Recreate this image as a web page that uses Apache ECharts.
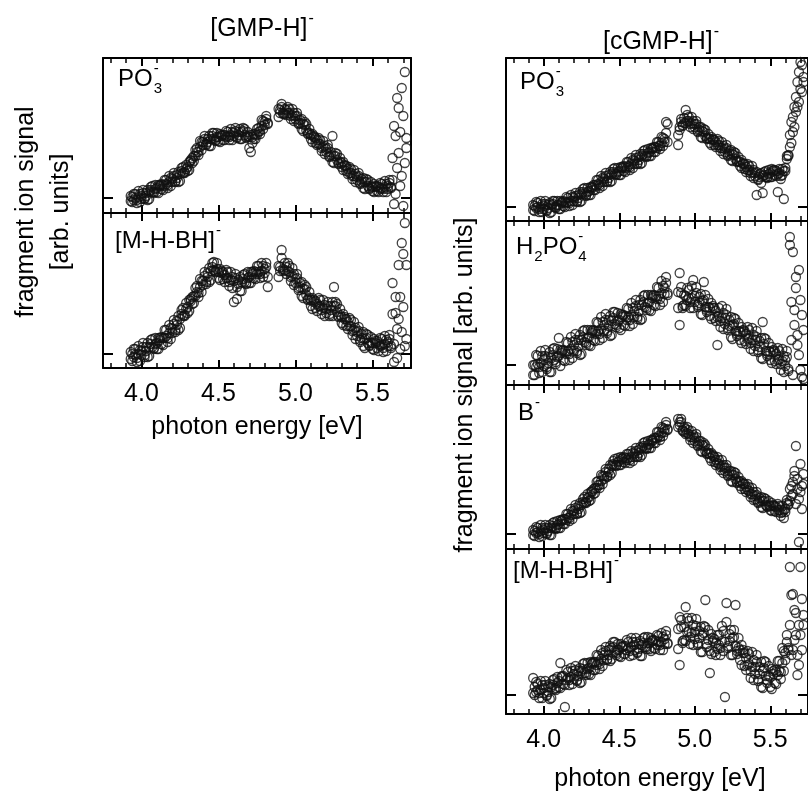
<!DOCTYPE html>
<html><head><meta charset="utf-8">
<script src="https://cdn.jsdelivr.net/npm/echarts@6/dist/echarts.min.js"></script>
<style>html,body{margin:0;padding:0;background:#fff}#c{width:808px;height:797px}</style>
</head><body><div id="c"></div>
<script>
// photon energy grid [eV]
const energy = [
3.93,3.94,3.95,3.96,3.97,3.98,3.99,4.00,4.01,4.02,
4.03,4.04,4.05,4.06,4.07,4.08,4.09,4.10,4.11,4.12,
4.13,4.14,4.15,4.16,4.17,4.18,4.19,4.20,4.21,4.22,
4.23,4.24,4.25,4.26,4.27,4.28,4.29,4.30,4.31,4.32,
4.33,4.34,4.35,4.36,4.37,4.38,4.39,4.40,4.41,4.42,
4.43,4.44,4.45,4.46,4.47,4.48,4.49,4.50,4.51,4.52,
4.53,4.54,4.55,4.56,4.57,4.58,4.59,4.60,4.61,4.62,
4.63,4.64,4.65,4.66,4.67,4.68,4.69,4.70,4.71,4.72,
4.73,4.74,4.75,4.76,4.77,4.78,4.79,4.80,4.81,4.82,
4.83,4.84,4.85,4.86,4.87,4.88,4.89,4.90,4.91,4.92,
4.93,4.94,4.95,4.96,4.97,4.98,4.99,5.00,5.01,5.02,
5.03,5.04,5.05,5.06,5.07,5.08,5.09,5.10,5.11,5.12,
5.13,5.14,5.15,5.16,5.17,5.18,5.19,5.20,5.21,5.22,
5.23,5.24,5.25,5.26,5.27,5.28,5.29,5.30,5.31,5.32,
5.33,5.34,5.35,5.36,5.37,5.38,5.39,5.40,5.41,5.42,
5.43,5.44,5.45,5.46,5.47,5.48,5.49,5.50,5.51,5.52,
5.53,5.54,5.55,5.56,5.57,5.58,5.59,5.60,5.61,5.62,
5.63,5.64,5.65,5.66,5.67,5.68,5.69,5.70,5.71,5.72];
const n = null;

// [GMP-H]- : PO3- fragment (two scans)
const gmpPO3A = [
2,-4,4,0,-2,7,-4,2,5,0,
2,8,-1,8,12,6,9,6,13,12,
9,13,12,18,10,16,20,16,25,16,
23,16,24,30,25,25,33,31,28,38,
40,37,48,46,46,57,48,56,59,54,
56,62,52,62,65,58,61,57,64,62,
58,63,61,66,58,63,66,62,70,60,
66,59,66,70,63,60,66,61,46,55,
64,59,69,66,67,78,69,76,79,75,
n,n,n,n,n,n,81,88,91,85,
84,88,85,89,79,83,85,79,85,74,
78,69,74,76,68,64,69,63,56,62,
60,53,60,54,50,57,44,49,50,42,
43,62,35,42,44,35,36,31,36,32,
27,29,25,29,19,22,24,18,25,14,
19,10,16,19,12,9,16,11,6,12,
12,6,15,10,9,17,6,12,15,11,
40,-6,62,30,90,12,110,-8,126,50];
const gmpPO3B = [
-3,1,-2,4,-5,1,4,-1,8,-1,
5,-2,6,11,6,5,13,10,5,13,
14,8,18,14,13,22,12,19,22,17,
20,26,17,27,31,26,29,27,36,37,
35,42,42,50,43,51,56,53,62,53,
59,52,59,65,59,57,65,61,56,63,
63,58,67,62,61,69,58,65,67,61,
63,69,59,67,69,61,62,50,63,61,
59,64,63,70,64,72,77,73,82,74,
n,n,n,n,n,n,89,85,94,84,
89,83,91,85,82,89,77,82,82,75,
75,79,67,73,74,65,65,59,64,61,
55,58,54,58,47,51,52,46,53,41,
46,36,42,45,38,34,40,35,28,33,
32,24,31,25,22,28,16,21,22,15,
16,20,9,16,18,10,12,7,14,11,
7,11,9,14,6,11,14,9,18,10,
18,72,4,100,45,66,22,82,35,60];

// [GMP-H]- : [M-H-BH]- fragment
const gmpMHBHA = [
2,-7,5,-1,-4,8,-7,3,7,-1,
3,11,-2,10,15,6,10,5,16,14,
10,16,16,24,12,21,26,21,34,22,
33,24,35,44,38,38,51,47,43,55,
57,51,66,62,61,75,62,73,78,72,
77,86,74,87,92,83,85,76,85,81,
75,79,76,82,68,74,77,52,80,55,
74,63,72,79,72,70,82,77,71,82,
83,75,88,82,80,91,77,85,87,77,
n,n,n,n,n,n,77,87,104,85,
84,87,83,88,73,78,80,71,80,64,
71,58,65,69,59,54,62,54,45,54,
53,43,56,48,44,54,38,45,48,40,
44,52,67,48,50,38,39,31,40,35,
28,32,28,34,19,24,26,18,27,12,
20,8,15,20,11,8,17,11,4,13,
13,3,16,9,6,18,3,12,15,8,
40,-8,57,25,89,5,111,47,131,15];
const gmpMHBHB = [
-5,0,-3,5,-8,0,4,-1,11,-3,
7,-3,7,14,7,5,16,11,5,16,
17,9,24,18,16,29,15,25,30,24,
29,38,26,40,46,39,45,41,54,53,
50,58,58,68,57,67,73,69,82,70,
81,72,83,91,84,82,91,82,74,83,
82,72,84,76,72,82,66,73,76,67,
70,77,63,75,80,71,76,71,82,80,
76,82,80,88,76,83,88,81,91,67,
n,n,n,n,n,n,88,83,96,83,
91,80,91,82,77,86,69,75,76,66,
67,72,56,65,67,55,56,48,56,52,
46,50,48,54,40,46,49,41,52,38,
48,38,48,52,42,37,45,37,29,37,
35,25,36,28,23,32,15,22,23,14,
16,22,6,16,19,9,11,5,15,11,
6,10,8,15,2,10,14,8,19,6,
71,10,41,-4,35,57,22,100,8,89];

// [cGMP-H]- : PO3- fragment
const cgmpPO3A = [
2,-4,5,0,-2,6,-5,1,3,-3,
-1,4,-5,3,6,0,2,-2,6,4,
1,5,4,9,1,6,10,6,14,5,
12,5,13,18,13,11,19,16,12,20,
22,17,27,23,22,31,21,28,31,26,
29,35,26,35,39,33,35,32,40,39,
36,40,39,45,37,43,47,43,52,43,
50,43,51,56,51,50,58,55,51,59,
60,55,65,61,61,70,61,68,85,65,
n,n,n,n,n,n,72,80,85,82,
84,97,86,90,80,84,86,80,86,75,
80,70,76,78,71,68,73,68,62,68,
67,60,68,62,59,65,53,58,59,52,
53,57,46,52,54,46,46,41,47,43,
38,40,37,41,31,35,37,31,12,27,
33,24,31,35,30,29,37,34,30,37,
37,31,15,34,31,38,8,39,48,52,
72,64,90,80,110,100,135,118,142,125];
const cgmpPO3B = [
-3,1,-1,4,-5,0,3,-2,6,-4,
2,-6,2,6,0,-1,6,2,-2,5,
6,0,10,5,4,12,2,9,11,6,
9,15,6,15,19,12,15,12,20,19,
17,22,21,27,19,25,29,25,34,25,
32,25,33,38,33,32,39,36,32,40,
41,35,45,41,40,49,39,46,49,44,
47,53,44,53,57,51,54,51,59,58,
55,60,59,65,58,64,69,65,74,83,
n,n,n,n,n,n,62,77,88,81,
89,84,92,86,83,90,78,83,83,76,
77,80,69,75,77,69,69,64,70,67,
62,65,62,66,56,59,61,55,62,51,
56,47,53,55,48,45,50,45,39,44,
43,35,43,37,34,41,29,34,35,28,
30,34,14,32,36,30,33,30,38,36,
32,36,33,38,28,32,36,36,51,51,
60,85,75,100,95,125,105,145,115,130];

// [cGMP-H]- : H2PO4- fragment
const cgmpH2PO4A = [
0,-10,10,1,-2,14,-7,5,9,-2,
2,13,-7,10,17,3,8,27,15,12,
5,14,11,22,5,16,23,14,31,12,
25,10,25,34,23,20,35,28,19,34,
35,24,43,34,31,48,27,40,45,34,
39,49,30,47,53,40,44,37,51,48,
40,49,45,56,39,50,57,48,65,46,
60,45,60,69,58,55,70,63,54,69,
70,59,78,69,66,84,63,77,82,72,
n,n,n,n,n,n,57,92,72,59,
60,69,65,75,57,67,85,63,78,58,
68,51,64,83,58,53,66,57,46,59,
57,44,20,49,44,59,36,47,50,37,
39,48,26,41,46,31,34,25,38,33,
24,31,26,35,16,25,30,19,34,13,
24,7,43,27,14,9,22,13,2,15,
14,1,17,6,1,16,-7,5,8,-4,
128,63,113,40,77,20,95,-5,50,-14];
const cgmpH2PO4B = [
-10,0,-2,9,-8,2,9,-1,15,-4,
8,-7,7,16,5,1,16,9,-1,14,
15,4,23,14,11,28,7,20,25,14,
19,30,11,28,35,22,27,20,35,32,
25,34,31,42,25,36,43,34,51,32,
45,29,44,53,41,38,52,45,35,50,
50,39,57,48,45,62,41,54,59,48,
54,65,46,63,70,57,62,55,70,67,
60,69,66,77,60,72,79,71,88,70,
n,n,n,n,n,n,73,40,78,57,
70,59,77,67,63,79,57,69,72,60,
62,71,50,65,70,55,58,49,62,57,
47,54,48,57,38,47,52,41,56,35,
45,28,40,47,34,29,42,33,22,35,
34,21,38,27,22,37,14,25,28,15,
18,27,6,21,26,11,14,5,18,13,
4,11,5,14,-5,4,9,-1,14,-6,
120,25,-10,55,88,30,10,65,-12,35];

// [cGMP-H]- : B- fragment
const cgmpBA = [
4,-2,7,2,0,9,-2,4,6,1,
3,9,-1,8,12,6,9,6,14,13,
10,15,14,20,13,19,23,20,29,20,
28,21,29,35,31,31,40,37,34,43,
45,41,52,49,49,59,50,58,62,58,
62,69,61,70,75,69,72,69,77,75,
72,76,74,80,71,77,81,77,86,77,
84,77,86,91,86,85,93,90,86,94,
96,91,102,98,97,107,98,105,109,105,
n,n,n,n,n,n,107,112,112,104,
102,105,101,104,94,97,99,93,100,88,
93,83,89,91,83,80,85,80,73,79,
77,69,77,70,67,74,61,66,66,59,
60,63,52,59,61,52,53,48,53,50,
45,47,44,47,37,40,42,35,42,31,
36,27,33,36,29,27,33,28,23,29,
28,22,30,24,21,28,16,25,31,30,
45,38,52,63,88,55,-8,70,48,60];
const cgmpBB = [
-1,3,1,6,-3,3,6,1,9,0,
6,-1,6,11,6,5,13,10,6,14,
15,10,20,16,16,25,15,23,26,21,
25,31,22,32,37,32,36,33,42,42,
40,46,46,53,46,53,58,55,65,57,
65,59,68,73,69,68,76,73,69,76,
77,71,80,76,74,83,73,80,83,78,
81,87,79,88,92,86,89,86,94,93,
91,96,96,102,94,101,106,102,112,104,
n,n,n,n,n,n,115,109,115,103,
107,100,107,100,97,103,91,96,97,89,
90,93,82,88,89,81,81,76,81,78,
72,74,71,74,64,68,69,63,69,58,
63,53,59,62,55,51,57,52,45,51,
50,42,50,43,40,46,34,38,39,32,
33,37,26,33,35,28,29,24,31,28,
23,27,24,28,18,22,24,22,34,29,
33,48,40,58,30,45,35,42,25,50];

// [cGMP-H]- : [M-H-BH]- fragment
const cgmpMHBHA = [
17,0,13,5,2,14,-3,7,10,0,
3,11,-3,10,16,7,12,8,32,18,
11,-12,15,23,10,18,24,16,29,14,
24,12,24,31,22,20,32,27,20,32,
33,25,40,33,31,45,29,40,44,36,
40,49,36,48,53,42,45,39,51,48,
41,49,45,53,39,48,53,45,57,42,
51,39,50,57,48,46,58,52,44,55,
55,46,60,53,50,62,45,56,60,52,
n,n,n,n,n,n,46,78,68,54,
55,88,63,74,51,62,70,56,76,50,
64,43,60,69,95,48,65,22,41,57,
56,40,60,50,47,69,44,-2,92,49,
54,65,40,58,90,44,47,35,50,42,
29,37,30,41,17,28,35,21,40,14,
28,8,24,34,19,12,29,18,6,24,
25,11,34,24,23,47,24,42,53,47,
128,40,101,55,82,20,30,60,96,70];
const cgmpMHBHB = [
2,8,3,11,-3,5,10,2,14,-1,
8,-4,8,15,6,5,18,14,7,19,
19,10,25,17,15,27,11,21,25,15,
19,27,13,26,32,22,26,21,33,31,
25,33,30,39,26,36,42,35,48,35,
45,34,47,53,43,40,51,45,38,49,
49,41,55,47,44,57,40,50,53,43,
46,54,39,52,58,48,52,46,57,54,
47,54,50,59,45,53,58,51,64,51,
n,n,n,n,n,n,66,30,75,52,
68,54,77,64,58,77,50,63,69,52,
57,68,43,62,68,51,55,44,61,54,
43,52,46,60,40,54,64,53,73,47,
61,40,57,65,49,41,57,45,30,45,
42,25,44,31,24,43,15,28,33,16,
21,33,7,27,33,15,19,8,26,21,
12,23,20,34,16,32,44,35,60,45,
70,100,45,85,60,40,70,128,45,80];

const majorTicks = [4.0, 4.5, 5.0, 5.5];
const minorTicks = [3.8,3.9,4.1,4.2,4.3,4.4,4.6,4.7,4.8,4.9,5.1,5.2,5.3,5.4,5.6,5.7];
const yTicks = [0];

const FONT = "'Liberation Sans', Arial, Helvetica, sans-serif";

const panels = [
  {grid:{left:103, top:58,  width:308, height:155}, y:[-15,140], scans:[gmpPO3A,gmpPO3B], labels:false},
  {grid:{left:103, top:213, width:308, height:155}, y:[-14,141], scans:[gmpMHBHA,gmpMHBHB], labels:true},
  {grid:{left:506, top:58,  width:308, height:163}, y:[-14,149], scans:[cgmpPO3A,cgmpPO3B], labels:false},
  {grid:{left:506, top:221, width:308, height:164}, y:[-20,144], scans:[cgmpH2PO4A,cgmpH2PO4B], labels:false},
  {grid:{left:506, top:385, width:308, height:164}, y:[-15,149], scans:[cgmpBA,cgmpBB], labels:false},
  {grid:{left:506, top:549, width:308, height:165}, y:[-19,146], scans:[cgmpMHBHA,cgmpMHBHB], labels:true}
];

const grid = [], xAxis = [], yAxis = [], series = [];
const lineS = {color:'#000', width:2};
panels.forEach((p, i) => {
  grid.push(p.grid);
  const xb = {gridIndex:i, type:'value', min:3.75, max:5.75, splitLine:{show:false}};
  const xi = xAxis.length;
  ['bottom','top'].forEach(pos => {
    xAxis.push(Object.assign({}, xb, {position:pos,
      axisLine:{show:true, onZero:false, lineStyle:lineS},
      axisTick:{show:true, inside:true, length:8, customValues:majorTicks, lineStyle:{color:'#000', width:2}},
      axisLabel:{show: p.labels && pos === 'bottom', customValues:majorTicks, formatter: v => v.toFixed(1),
        color:'#000', fontSize:25, fontFamily:FONT, margin:14}}));
    xAxis.push(Object.assign({}, xb, {position:pos,
      axisLine:{show:false, onZero:false},
      axisTick:{show:true, inside:true, length:5, customValues:minorTicks, lineStyle:{color:'#000', width:1.5}},
      axisLabel:{show:false}}));
  });
  const yi = yAxis.length;
  ['left','right'].forEach(pos => {
    yAxis.push({gridIndex:i, type:'value', min:p.y[0], max:p.y[1], position:pos, splitLine:{show:false},
      axisLine:{show:true, onZero:false, lineStyle:lineS},
      axisTick:{show:true, inside:true, length:10, customValues:yTicks, lineStyle:{color:'#000', width:2}},
      axisLabel:{show:false}});
  });
  const data = [];
  p.scans.forEach(s => s.forEach((v, k) => { if (v !== null) data.push([energy[k], v]); }));
  series.push({type:'scatter', xAxisIndex:xi, yAxisIndex:yi, data, symbol:'circle', symbolSize:9,
    itemStyle:{color:'rgba(0,0,0,0)', borderColor:'#111', borderWidth:1.3}, silent:true});
});

// text helpers
const ctx = document.createElement('canvas').getContext('2d');
function tw(t, size) { ctx.font = size + 'px ' + FONT; return ctx.measureText(t).width; }
function txt(t, x, y, size, extra) {
  return Object.assign({type:'text', x, y, silent:true,
    style:{text:t, fill:'#000', font: size + 'px ' + FONT, align:'left', verticalAlign:'middle'}}, extra || {});
}
function chemWidth(parts, size) {
  const s2 = Math.round(size * 0.62); let w = 0;
  parts.forEach(p => { if (p.t) w += tw(p.t, size); else w += Math.max(p.sub ? tw(p.sub, s2) : 0, p.sup ? tw(p.sup, s2) : 0) + 1; });
  return w;
}
function chem(x, y, parts, size) {
  const s2 = Math.round(size * 0.62); const els = []; let cx = x;
  parts.forEach(p => {
    if (p.t) { els.push(txt(p.t, cx, y, size)); cx += tw(p.t, size); }
    else {
      let w = 0;
      if (p.sub) { els.push(txt(p.sub, cx + 1, y + size * 0.40, s2)); w = Math.max(w, tw(p.sub, s2)); }
      if (p.sup) { els.push(txt(p.sup, cx + 1, y - size * 0.42, s2)); w = Math.max(w, tw(p.sup, s2)); }
      cx += w + 1;
    }
  });
  return els;
}
function chemCenter(cx, y, parts, size) { return chem(cx - chemWidth(parts, size) / 2, y, parts, size); }

const graphic = [].concat(
  chemCenter(262, 29, [{t:'[GMP-H]'}, {sup:'-'}], 25),
  chemCenter(661, 42, [{t:'[cGMP-H]'}, {sup:'-'}], 25),
  chem(118, 79, [{t:'PO'}, {sub:'3', sup:'-'}], 24),
  chem(115, 241, [{t:'[M-H-BH]'}, {sup:'-'}], 24),
  chem(520, 82, [{t:'PO'}, {sub:'3', sup:'-'}], 24),
  chem(516, 247, [{t:'H'}, {sub:'2'}, {t:'PO'}, {sub:'4', sup:'-'}], 24),
  chem(518, 413, [{t:'B'}, {sup:'-'}], 24),
  chem(513, 571, [{t:'[M-H-BH]'}, {sup:'-'}], 24),
  [
    txt('photon energy [eV]', 257, 427, 25, {}),
    txt('photon energy [eV]', 660, 779, 25, {}),
    txt('fragment ion signal', 26, 212, 25, {rotation: Math.PI / 2}),
    txt('[arb. units]', 61, 212, 25, {rotation: Math.PI / 2}),
    txt('fragment ion signal [arb. units]', 465, 385, 25, {rotation: Math.PI / 2})
  ].map(e => { e.style.align = 'center'; return e; })
);

const chart = echarts.init(document.getElementById('c'), null, {renderer:'canvas'});
chart.setOption({animation:false, backgroundColor:'#fff', grid, xAxis, yAxis, series, graphic});
</script>
</body></html>
